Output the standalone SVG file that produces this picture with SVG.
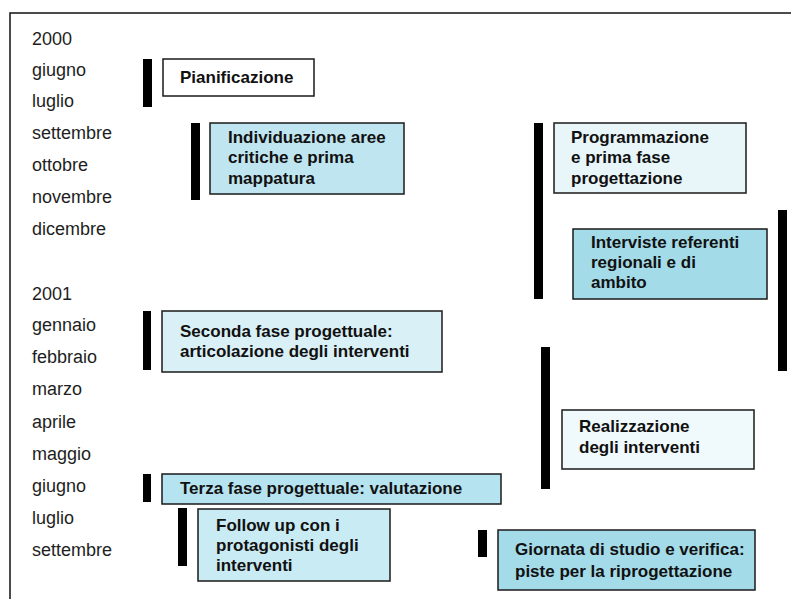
<svg xmlns="http://www.w3.org/2000/svg" width="791" height="599" viewBox="0 0 791 599">
  <style>
    .month { font-family: "Liberation Sans", Arial, sans-serif; font-size: 18px; fill: #1e1e1e; }
    .label { font-family: "Liberation Sans", Arial, sans-serif; font-size: 17px; font-weight: bold; fill: #111; }
    .box { stroke: #1a1a1a; stroke-width: 1.5; }
    .bar { fill: #000; }
  </style>

  <rect width="791" height="599" fill="#fff"/>
  <!-- outer frame (top and left edges) -->
  <path d="M10 599 V13 H791" fill="none" stroke="#111" stroke-width="1.5"/>

  <!-- time axis -->
  <g id="months">
    <text class="month" x="32" y="45">2000</text>
    <text class="month" x="32" y="76">giugno</text>
    <text class="month" x="32" y="107">luglio</text>
    <text class="month" x="32" y="139">settembre</text>
    <text class="month" x="32" y="171">ottobre</text>
    <text class="month" x="32" y="203">novembre</text>
    <text class="month" x="32" y="235">dicembre</text>
    <text class="month" x="32" y="300">2001</text>
    <text class="month" x="32" y="331">gennaio</text>
    <text class="month" x="32" y="363">febbraio</text>
    <text class="month" x="32" y="395">marzo</text>
    <text class="month" x="32" y="428">aprile</text>
    <text class="month" x="32" y="460">maggio</text>
    <text class="month" x="32" y="492">giugno</text>
    <text class="month" x="32" y="524">luglio</text>
    <text class="month" x="32" y="556">settembre</text>
  </g>

  <!-- duration bars -->
  <g id="connectors">
    <rect class="bar" x="143" y="59" width="9" height="48"/>
    <rect class="bar" x="191" y="123" width="9" height="77"/>
    <rect class="bar" x="534" y="123" width="9" height="176"/>
    <rect class="bar" x="778" y="210" width="9" height="161"/>
    <rect class="bar" x="143" y="311" width="8" height="59"/>
    <rect class="bar" x="541" y="347" width="9" height="142"/>
    <rect class="bar" x="143" y="474" width="8" height="28"/>
    <rect class="bar" x="178" y="508" width="9" height="58"/>
    <rect class="bar" x="478" y="530" width="9" height="27"/>
  </g>

  <g id="pianificazione">
    <rect class="box" x="163" y="59" width="151" height="37" fill="#ffffff"/>
    <text class="label" x="180" y="83">Pianificazione</text>
  </g>

  <g id="individuazione">
    <rect class="box" x="210" y="123" width="194" height="71" fill="#bfe6f0"/>
    <text class="label" x="228" y="143">Individuazione aree</text>
    <text class="label" x="228" y="163">critiche e prima</text>
    <text class="label" x="228" y="184">mappatura</text>
  </g>

  <g id="programmazione">
    <rect class="box" x="554" y="123" width="192" height="70" fill="#e8f6fa"/>
    <text class="label" x="571" y="143">Programmazione</text>
    <text class="label" x="571" y="163">e prima fase</text>
    <text class="label" x="571" y="184">progettazione</text>
  </g>

  <g id="interviste">
    <rect class="box" x="573" y="229" width="194" height="70" fill="#a3dbe8"/>
    <text class="label" x="591" y="248">Interviste referenti</text>
    <text class="label" x="591" y="268">regionali e di</text>
    <text class="label" x="591" y="288">ambito</text>
  </g>

  <g id="seconda-fase">
    <rect class="box" x="162" y="311" width="280" height="61" fill="#d9f0f6"/>
    <text class="label" x="180" y="337">Seconda fase progettuale:</text>
    <text class="label" x="180" y="357">articolazione degli interventi</text>
  </g>

  <g id="realizzazione">
    <rect class="box" x="562" y="410" width="192" height="59" fill="#f0f9fc"/>
    <text class="label" x="579" y="432">Realizzazione</text>
    <text class="label" x="579" y="453">degli interventi</text>
  </g>

  <g id="terza-fase">
    <rect class="box" x="162" y="474" width="339" height="30" fill="#b5e3ef"/>
    <text class="label" x="180" y="494">Terza fase progettuale: valutazione</text>
  </g>

  <g id="follow-up">
    <rect class="box" x="198" y="509" width="192" height="72" fill="#c9ebf3"/>
    <text class="label" x="216" y="531">Follow up con i</text>
    <text class="label" x="216" y="551">protagonisti degli</text>
    <text class="label" x="216" y="571">interventi</text>
  </g>

  <g id="giornata">
    <rect class="box" x="498" y="530" width="257" height="60" fill="#a3dbe8"/>
    <text class="label" x="515" y="555">Giornata di studio e verifica:</text>
    <text class="label" x="515" y="577">piste per la riprogettazione</text>
  </g>
</svg>
